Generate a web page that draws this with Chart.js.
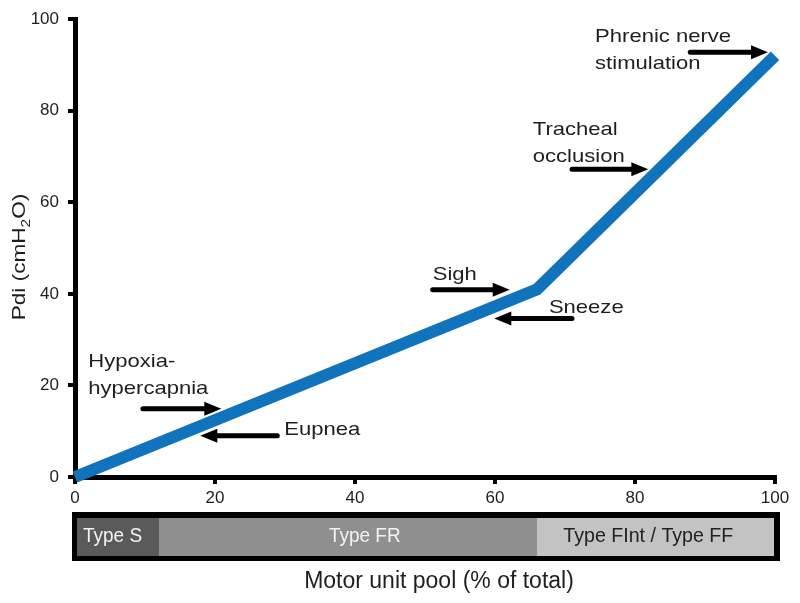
<!DOCTYPE html>
<html>
<head>
<meta charset="utf-8">
<script src="https://cdn.jsdelivr.net/npm/chart.js@4.4.1/dist/chart.umd.min.js"></script>
<style>
  html, body { margin: 0; padding: 0; background: #fff; }
  canvas { display: block; }
</style>
</head>
<body>
<canvas id="c" width="800" height="603"></canvas>
<script>
// data
const motorUnitPool = [0, 66, 100];   // % of total
const pdi = [0, 41, 92];              // cmH2O
const xTickValues = [0, 20, 40, 60, 80, 100];
const yTickValues = [0, 20, 40, 60, 80, 100];
const fiberTypes = ['Type S', 'Type FR', 'Type FInt / Type FF'];
const fiberBounds = [0, 12, 66, 100];
const fiberColors = ['#5a5a5a', '#8f8f8f', '#c3c3c3'];
const fiberTextColors = ['#f2f2f2', '#f2f2f2', '#222'];

const FONT = '"Liberation Sans", Arial, sans-serif';
const INK = '#1e1e1e';

// annotation labels and arrows, in data units (x = %, y = cmH2O)
const labels = [
    { lines: ['Hypoxia-', 'hypercapnia'], x: 1.9, y: 24.0 },
    { lines: ['Eupnea'], x: 29.9, y: 9.2 },
    { lines: ['Sigh'], x: 51.1, y: 43.1 },
    { lines: ['Sneeze'], x: 67.7, y: 35.9 },
    { lines: ['Tracheal', 'occlusion'], x: 65.4, y: 74.6 },
    { lines: ['Phrenic nerve', 'stimulation'], x: 74.3, y: 95.0 }
];
const arrows = [
    { x0: 9.7, x1: 20.9, y: 14.9 },
    { x0: 28.9, x1: 17.9, y: 9.0 },
    { x0: 51.1, x1: 62.1, y: 40.9 },
    { x0: 71.0, x1: 59.9, y: 34.6 },
    { x0: 71.0, x1: 81.9, y: 67.2 },
    { x0: 87.9, x1: 99.0, y: 92.8 }
];

function drawText(ctx, str, x, y, size, color, align, stretch) {
    ctx.save();
    ctx.translate(x, y);
    ctx.scale(stretch || 1, 1);
    ctx.font = size + 'px ' + FONT;
    ctx.fillStyle = color;
    ctx.textAlign = align || 'left';
    ctx.textBaseline = 'alphabetic';
    ctx.fillText(str, 0, 0);
    ctx.restore();
}

function drawArrow(ctx, x0, x1, y) {
    const dir = x1 > x0 ? 1 : -1;
    const head = 17;
    ctx.save();
    ctx.strokeStyle = '#000';
    ctx.fillStyle = '#000';
    ctx.lineWidth = 5;
    ctx.lineCap = 'round';
    ctx.beginPath();
    ctx.moveTo(x0, y);
    ctx.lineTo(x1 - dir * head, y);
    ctx.stroke();
    ctx.beginPath();
    ctx.moveTo(x1, y);
    ctx.lineTo(x1 - dir * head, y - 7);
    ctx.lineTo(x1 - dir * head, y + 7);
    ctx.closePath();
    ctx.fill();
    ctx.restore();
}

const extras = {
    id: 'extras',
    afterDraw(chart) {
        const ctx = chart.ctx;
        const xs = chart.scales.x, ys = chart.scales.y;

        // annotations
        labels.forEach(l => {
            l.lines.forEach((t, i) => {
                drawText(ctx, t, xs.getPixelForValue(l.x), ys.getPixelForValue(l.y) + i * 27, 19, INK, 'left', 1.16);
            });
        });
        arrows.forEach(a => {
            drawArrow(ctx, xs.getPixelForValue(a.x0), xs.getPixelForValue(a.x1), ys.getPixelForValue(a.y));
        });

        // fibre type bar under the x axis
        const left = xs.getPixelForValue(0), right = xs.getPixelForValue(100);
        ctx.fillStyle = '#000';
        ctx.fillRect(left - 3, 512, right - left + 8, 49);
        fiberTypes.forEach((name, i) => {
            const a = Math.max(xs.getPixelForValue(fiberBounds[i]), left + 2);
            const b = Math.min(xs.getPixelForValue(fiberBounds[i + 1]), right - 1);
            ctx.fillStyle = fiberColors[i];
            ctx.fillRect(a, 518, b - a, 38);
        });
        drawText(ctx, fiberTypes[0], left + 8, 542, 20, fiberTextColors[0], 'left', 0.95);
        drawText(ctx, fiberTypes[1], xs.getPixelForValue(41.4), 542, 20, fiberTextColors[1], 'center', 0.95);
        drawText(ctx, fiberTypes[2], xs.getPixelForValue(81.9), 542, 20, fiberTextColors[2], 'center', 0.98);

        // axis titles
        drawText(ctx, 'Motor unit pool (% of total)', 439, 588, 23, INK, 'center', 1);

        ctx.save();
        ctx.translate(25, 257);
        ctx.rotate(-Math.PI / 2);
        ctx.scale(1.19, 1);
        ctx.fillStyle = INK;
        ctx.textBaseline = 'alphabetic';
        ctx.font = '19px ' + FONT;
        const p1 = 'Pdi (cmH', p2 = '2', p3 = 'O)';
        const w1 = ctx.measureText(p1).width;
        ctx.font = '13px ' + FONT;
        const w2 = ctx.measureText(p2).width;
        ctx.font = '19px ' + FONT;
        const w3 = ctx.measureText(p3).width;
        let x = -(w1 + w2 + w3) / 2;
        ctx.fillText(p1, x, 0);
        x += w1;
        ctx.font = '13px ' + FONT;
        ctx.fillText(p2, x, 5);
        x += w2;
        ctx.font = '19px ' + FONT;
        ctx.fillText(p3, x, 0);
        ctx.restore();
    }
};

new Chart(document.getElementById('c').getContext('2d'), {
    type: 'line',
    data: {
        datasets: [{
            data: motorUnitPool.map((v, i) => ({ x: v, y: pdi[i] })),
            borderColor: '#1273bd',
            borderWidth: 12,
            borderCapStyle: 'butt',
            borderJoinStyle: 'miter',
            pointRadius: 0,
            tension: 0,
            clip: false
        }]
    },
    options: {
        responsive: false,
        animation: false,
        layout: { padding: { top: 16, right: 25, left: 0, bottom: 0 } },
        plugins: { legend: { display: false }, tooltip: { enabled: false } },
        scales: {
            x: {
                type: 'linear',
                min: 0, max: 100,
                afterBuildTicks: s => { s.ticks = xTickValues.map(v => ({ value: v })); },
                afterFit: s => { s.height = 126; },
                border: { color: '#000', width: 5 },
                grid: { drawOnChartArea: false, drawTicks: true, tickLength: 7, color: '#000', lineWidth: 4 },
                ticks: { color: INK, padding: 4, font: { family: FONT, size: 17 }, maxRotation: 0 }
            },
            y: {
                type: 'linear',
                min: 0, max: 100,
                afterBuildTicks: s => { s.ticks = yTickValues.map(v => ({ value: v })); },
                afterFit: s => { s.width = 75; },
                border: { color: '#000', width: 5 },
                grid: { drawOnChartArea: false, drawTicks: true, tickLength: 7, color: '#000', lineWidth: 4 },
                ticks: { color: INK, padding: 9, font: { family: FONT, size: 17 } }
            }
        }
    },
    plugins: [extras]
});
</script>
</body>
</html>
